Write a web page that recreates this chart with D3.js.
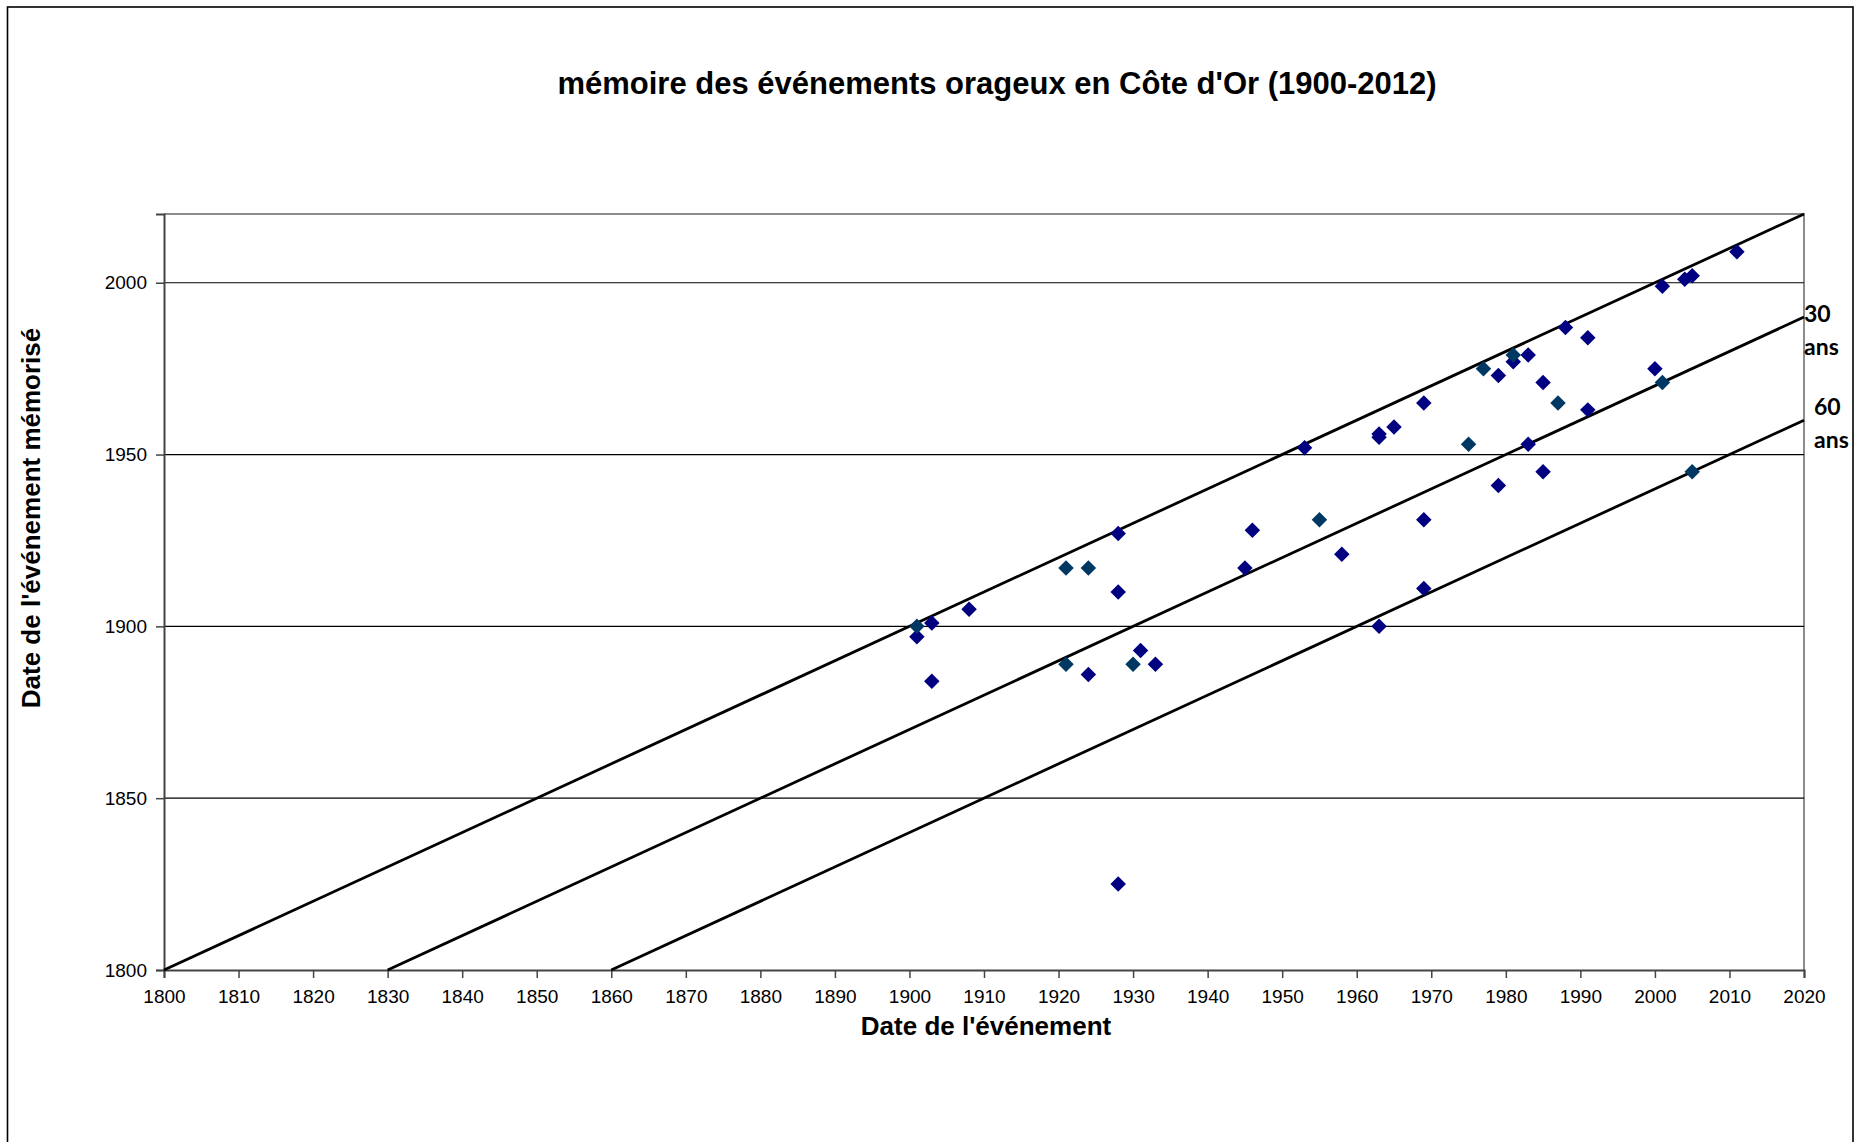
<!DOCTYPE html>
<html>
<head>
<meta charset="utf-8">
<script src="https://cdn.jsdelivr.net/npm/d3@7"></script>
<style>
  body { margin: 0; background: #fff; }
  svg { display: block; }
</style>
</head>
<body>
<div id="chart"></div>
<script>
// events: [date of the event, date of the remembered event]
var navyPoints = [
  [1901, 1897], [1903, 1901], [1903, 1884], [1908, 1905],
  [1928, 1927], [1928, 1910], [1924, 1886], [1931, 1893], [1933, 1889],
  [1928, 1825], [1945, 1917], [1946, 1928], [1953, 1952], [1958, 1921],
  [1963, 1956], [1963, 1955], [1965, 1958], [1969, 1965], [1969, 1931],
  [1969, 1911], [1963, 1900], [1979, 1973], [1979, 1941], [1981, 1977],
  [1983, 1979], [1983, 1953], [1985, 1971], [1985, 1945], [1988, 1987],
  [1991, 1984], [1991, 1963], [2000, 1975], [2001, 1999], [2004, 2001],
  [2005, 2002], [2011, 2009]
];
var tealPoints = [
  [1901, 1900], [1921, 1917], [1924, 1917], [1921, 1889], [1930, 1889],
  [1955, 1931], [1975, 1953], [1977, 1975], [1981, 1979], [1987, 1965],
  [2001, 1971], [2005, 1945]
];
// memory lag lines (years)
var lagOffsets = [0, 30, 60];
var lagLabels = [null, ["30", "ans"], ["60", "ans"]];

var xTicks = d3.range(1800, 2021, 10);
var yTicks = [1800, 1850, 1900, 1950, 2000];
var gridValues = [1850, 1900, 1950, 2000];

var title = "mémoire des événements orageux en Côte d'Or (1900-2012)";
var xTitle = "Date de l'événement";
var yTitle = "Date de l'événement mémorisé";

var width = 1859, height = 1142;
var plot = {left: 164, right: 1804, top: 214, bottom: 970};

var svg = d3.select("#chart").append("svg")
    .attr("width", width)
    .attr("height", height);

var x = d3.scaleLinear().domain([1800, 2020]).range([plot.left, plot.right]);
var y = d3.scaleLinear().domain([1800, 2020]).range([plot.bottom, plot.top]);

var font = "'Liberation Sans', Arial, sans-serif";

// outer chart frame (runs off the bottom like the original)
svg.append("rect")
    .attr("x", 7.5).attr("y", 7)
    .attr("width", 1845.5).attr("height", 1200)
    .attr("fill", "none")
    .attr("stroke", "#000")
    .attr("stroke-width", 1.6);

// plot area border, top and right in gray
svg.append("path")
    .attr("d", "M" + plot.left + "," + plot.top + "H" + plot.right + "V" + plot.bottom)
    .attr("fill", "none")
    .attr("stroke", "#8c8c8c")
    .attr("stroke-width", 2);

// gridlines
svg.append("g").selectAll("line")
    .data(gridValues)
    .join("line")
    .attr("x1", plot.left).attr("x2", plot.right)
    .attr("y1", function(d) { return y(d); })
    .attr("y2", function(d) { return y(d); })
    .attr("stroke", "#000")
    .attr("stroke-width", 1.2);

// axes
var xAxis = svg.append("g")
    .attr("transform", "translate(0," + plot.bottom + ")")
    .call(d3.axisBottom(x).tickValues(xTicks).tickFormat(d3.format("d")).tickSizeOuter(0).tickSize(8).tickPadding(12));
var yAxis = svg.append("g")
    .attr("transform", "translate(" + plot.left + ",0)")
    .call(d3.axisLeft(y).tickValues(yTicks).tickFormat(d3.format("d")).tickSizeOuter(0).tickSize(8).tickPadding(9));

[xAxis, yAxis].forEach(function(ax) {
    ax.select(".domain").attr("stroke", "#444").attr("stroke-width", 2);
    ax.selectAll(".tick line").attr("stroke", "#444").attr("stroke-width", 1.5);
    ax.selectAll(".tick text")
        .attr("fill", "#000")
        .style("font-family", font)
        .style("font-size", "19px");
});

// diagonal lag lines
svg.append("g").selectAll("line")
    .data(lagOffsets)
    .join("line")
    .attr("x1", function(d) { return x(1800 + d); })
    .attr("y1", y(1800))
    .attr("x2", x(2020))
    .attr("y2", function(d) { return y(2020 - d); })
    .attr("stroke", "#000")
    .attr("stroke-width", 2.8);

// markers
var diamond = d3.symbol().type(d3.symbolSquare).size(120);
function drawPoints(data, color) {
    svg.append("g").selectAll("path")
        .data(data)
        .join("path")
        .attr("d", diamond)
        .attr("transform", function(d) {
            return "translate(" + x(d[0]) + "," + y(d[1]) + ") rotate(45)";
        })
        .attr("fill", color);
}
drawPoints(navyPoints, "#000080");
drawPoints(tealPoints, "#003864");

// lag line labels
var labelX = [null, 1804, 1814];
var labelY = [null, 322, 415];
lagLabels.forEach(function(lbl, i) {
    if (!lbl) return;
    var t = svg.append("text")
        .attr("x", labelX[i])
        .attr("y", labelY[i])
        .style("font-family", "Lato, 'Open Sans', sans-serif")
        .style("font-weight", "bold")
        .style("font-size", "23px")
        .attr("fill", "#000");
    t.append("tspan").attr("x", labelX[i]).text(lbl[0]);
    t.append("tspan").attr("x", labelX[i]).attr("dy", 33).text(lbl[1]);
});

// titles
svg.append("text")
    .attr("x", 997).attr("y", 94)
    .attr("text-anchor", "middle")
    .style("font-family", font)
    .style("font-weight", "bold")
    .style("font-size", "31px")
    .text(title);

svg.append("text")
    .attr("x", 986).attr("y", 1035)
    .attr("text-anchor", "middle")
    .style("font-family", font)
    .style("font-weight", "bold")
    .style("font-size", "26px")
    .text(xTitle);

svg.append("text")
    .attr("transform", "translate(40,518) rotate(-90)")
    .attr("text-anchor", "middle")
    .style("font-family", font)
    .style("font-weight", "bold")
    .style("font-size", "26px")
    .text(yTitle);
</script>
</body>
</html>
